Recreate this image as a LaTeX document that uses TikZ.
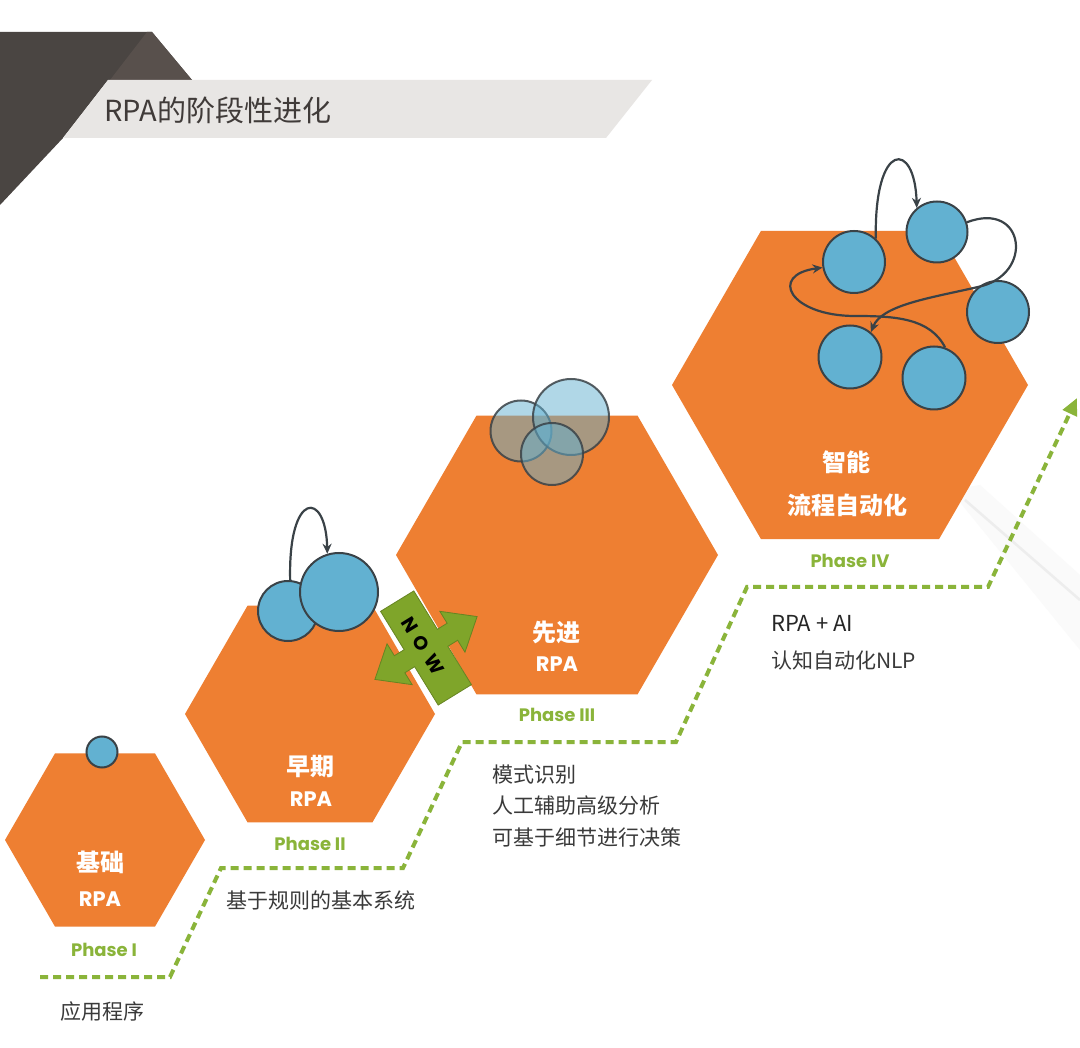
\documentclass[tikz,border=0pt]{standalone}
\usepackage{fontspec}
\setmainfont{Noto Sans CJK SC}
\newfontfamily\phasefont{Poppins}
\usepackage{tikz}
\usetikzlibrary{shapes.geometric,arrows.meta}

\definecolor{hexorange}{HTML}{EE7F32}
\definecolor{ballblue}{HTML}{62B1D1}
\definecolor{ballline}{HTML}{3A4247}
\definecolor{phasegreen}{HTML}{8AB43A}
\definecolor{nowgreen}{HTML}{7FA52A}
\definecolor{darkcorner}{HTML}{4A4542}
\definecolor{foldcorner}{HTML}{58504C}
\definecolor{bandgray}{HTML}{E8E6E4}
\definecolor{titlegray}{HTML}{403B39}
\definecolor{descgray}{HTML}{3A3A3A}

\begin{document}
\begin{tikzpicture}[x=1pt,y=-1pt,
  hexa/.style={regular polygon,regular polygon sides=6,fill=hexorange,inner sep=0pt,outer sep=0pt},
  ball/.style={circle,fill=ballblue,draw=ballline,line width=2pt,inner sep=0pt},
  glass/.style={circle,fill=ballblue,fill opacity=0.5,draw=ballline,draw opacity=0.85,line width=2pt,inner sep=0pt},
  loop/.style={draw=ballline,line width=2.2pt,-{Stealth[length=10pt,width=9pt]}},
  trail/.style={phasegreen,line width=4pt,dash pattern=on 8pt off 5pt,-{Triangle[length=17pt,width=15pt]}},
  hexlabel/.style={text=white,font=\bfseries\fontsize{24}{24}\selectfont},
  rpalabel/.style={text=white,font=\phasefont\bfseries\fontsize{21}{21}\selectfont},
  phaselabel/.style={text=phasegreen,font=\phasefont\bfseries\fontsize{18}{18}\selectfont},
  desc/.style={anchor=west,text=descgray,inner sep=0pt,font=\fontsize{21}{21}\selectfont}]
\useasboundingbox (0,0) rectangle (1080,1048);
\fill[white] (0,0) rectangle (1080,1048);

% header
\fill[darkcorner] (0,32) -- (152,32) -- (192,80) -- (108,80) -- (63,138) -- (0,205) -- cycle;
\fill[foldcorner] (147,32) -- (152,32) -- (192,80) -- (110,80) -- cycle;
\fill[bandgray] (108,80) -- (652,80) -- (606,138) -- (63,138) -- cycle;
\node[anchor=west,text=titlegray,inner sep=0pt,font=\fontsize{29}{29}\selectfont] (title) at (104,110) {RPA的阶段性进化};

% faint object in the back
\fill[gray!4] (950,490) -- (980,485) -- (1080,575) -- (1080,650) -- cycle;
\draw[gray!14,line width=2.5pt] (965,500) -- (1080,600);

% hexagons
\node[hexa,minimum size=200pt] (hex1) at (105,840) {};
\node[hexa,minimum size=250pt] (hex2) at (310,714) {};
\node[hexa,minimum size=322pt] (hex3) at (557,555) {};
\node[hexa,minimum size=356pt] (hex4) at (850,385) {};

% phase I
\node[ball,minimum size=31pt] (p1ball) at (102,752) {};

% phase II
\node[ball,minimum size=60pt] (p2small) at (288,611) {};
\node[ball,minimum size=78pt] (p2big) at (339,592) {};
\draw[loop] (p2small.86) .. controls (288,490) and (326,490) .. (p2big.107);

% phase III
\node[glass,minimum size=61pt] (p3left) at (521,431) {};
\node[glass,minimum size=76pt] (p3top) at (571,417) {};
\node[glass,minimum size=62pt] (p3low) at (552,454) {};

% phase IV
\node[ball,minimum size=62pt] (p4a) at (854,262) {};
\node[ball,minimum size=61pt] (p4b) at (937,232) {};
\node[ball,minimum size=62pt] (p4c) at (998,312) {};
\node[ball,minimum size=63pt] (p4d) at (850,357) {};
\node[ball,minimum size=63pt] (p4e) at (934,378) {};
\draw[loop] (p4a.47) .. controls (874,140) and (915,140) .. (p4b.130);
\draw[loop] (p4b.18) .. controls (1025,200) and (1035,275) .. (978,287)
  .. controls (930,298) and (882,305) .. (p4d.50);
\draw[loop] (p4e.70) .. controls (930,318) and (895,316) .. (855,316)
  .. controls (790,316) and (768,275) .. (p4a.190);

% now arrow
\begin{scope}[shift={(426,648)},rotate=31.6]
\filldraw[fill=nowgreen,draw=nowgreen!80!black,line width=0.8pt]
  (-19.5,-55) -- (19.5,-55) -- (19.5,-10) -- (31,-10) -- (31,-24) -- (60,0)
  -- (31,24) -- (31,10) -- (19.5,10) -- (19.5,55) -- (-19.5,55) -- (-19.5,10)
  -- (-31,10) -- (-31,24) -- (-60,0) -- (-31,-24) -- (-31,-10) -- (-19.5,-10) -- cycle;
\end{scope}
\node[rotate=-58.4,font=\phasefont\bfseries\fontsize{19}{19}\selectfont] (now) at (423,646) {N\hspace{7pt}O\hspace{7pt}W};

% trail
\coordinate (trailstart) at (40,977);
\coordinate (trailend) at (1077,398);
\draw[trail] (trailstart) -- (170,977) -- (221,868) -- (403,868) -- (462,742)
  -- (676,742) -- (747,587) -- (988,587) -- (trailend);

% hexagon texts
\node[hexlabel] (name1) at (100,862) {基础};
\node[rpalabel] (rpa1) at (100,899) {RPA};
\node[hexlabel] (name2) at (310,767) {早期};
\node[rpalabel] (rpa2) at (311,799) {RPA};
\node[hexlabel] (name3) at (556,632) {先进};
\node[rpalabel] (rpa3) at (557,664) {RPA};
\node[hexlabel] (name4) at (846,462) {智能};
\node[hexlabel] (name4b) at (847,505) {流程自动化};

% phase names
\node[phaselabel] (ph1) at (104,950) {Phase I};
\node[phaselabel] (ph2) at (310,844) {Phase II};
\node[phaselabel] (ph3) at (557,715) {Phase III};
\node[phaselabel] (ph4) at (850,561) {Phase IV};

% descriptions
\node[desc] (d1) at (60,1012) {应用程序};
\node[desc] (d2) at (226,900) {基于规则的基本系统};
\node[desc] (d3) at (492,775) {模式识别};
\node[desc] (d3b) at (492,806) {人工辅助高级分析};
\node[desc] (d3c) at (492,838) {可基于细节进行决策};
\node[desc,text=black!85,font=\fontsize{22}{22}\selectfont] (d4) at (771,623) {RPA + AI};
\node[desc] (d4b) at (771,661) {认知自动化NLP};
\end{tikzpicture}
\end{document}
